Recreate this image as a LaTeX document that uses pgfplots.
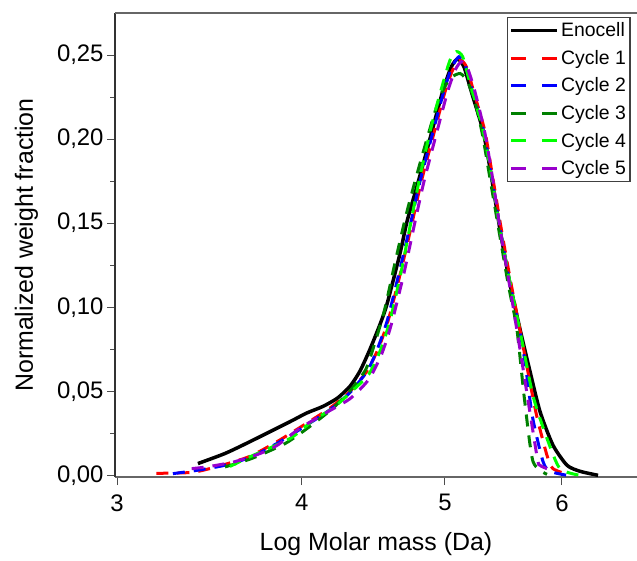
\documentclass[border=0pt]{standalone}
\usepackage{pgfplots}
\pgfplotsset{compat=1.18}
\usepackage{fontspec}
\setmainfont{Liberation Sans}

\definecolor{cdgreen}{RGB}{0,128,0}
\definecolor{clgreen}{RGB}{0,255,0}
\definecolor{cpurple}{RGB}{153,0,204}

\pgfplotsset{
  dashleg/.style={legend image code/.code={\draw[##1, dash pattern=on 15bp off 16bp] (0bp,0bp) -- (46bp,0bp);}},
  solidleg/.style={legend image code/.code={\draw[##1] (0bp,0bp) -- (46bp,0bp);}},
}

\begin{document}
\begin{tikzpicture}
\begin{axis}[
  scale only axis,
  width=522bp, height=464bp,
  xmode=log,
  xmin=2.9906, xmax=6.744,
  ymin=-0.001, ymax=0.275,
  axis lines=left,
  x axis line style={-, draw=black!60, line width=1.3bp},
  y axis line style={-, draw=black!80, line width=1.3bp},
  clip=false,
  tick align=outside,
  xtick={3,4,5,6},
  xticklabels={3,4,5,6},
  minor xtick={},
  ytick={0,0.05,0.10,0.15,0.20,0.25},
  minor ytick={0.025,0.075,0.125,0.175,0.225},
  major tick length=8bp,
  minor tick length=5bp,
  every tick/.style={black!70, line width=1bp},
  yticklabel style={/pgf/number format/.cd, fixed, fixed zerofill, precision=2, use comma},
  /pgf/number format/assume math mode=true,
  tick label style={font=\fontsize{24}{27}\selectfont},
  xticklabel style={yshift=-6bp},
  label style={font=\fontsize{25}{30}\selectfont},
  xlabel={Log Molar mass (Da)},
  ylabel={Normalized weight fraction},
  xlabel style={yshift=-14bp},
  ylabel style={yshift=12bp},
  legend style={at={(0.751,0.991)}, anchor=north west, draw=black!75,
    line width=1.2bp, font=\fontsize{19.5}{22}\selectfont,
    inner xsep=2bp, inner ysep=3bp, row sep=8bp},
  legend cell align=left,
  dashleg,
  every axis plot/.append style={line width=3bp, dash pattern=on 12bp off 9bp, smooth, tension=0.4},
]
\draw[black!60, line width=1.3bp] (rel axis cs:0,1) -- (rel axis cs:1,1);

% Enocell
\addplot[black, line width=3.5bp, solid, solidleg] coordinates {
(3.403,0.007) (3.55,0.013) (3.69,0.020) (3.93,0.032) (4.03,0.037)
(4.135,0.041) (4.23,0.046) (4.313,0.053) (4.38,0.062) (4.449,0.075)
(4.52,0.090) (4.569,0.102) (4.662,0.132) (4.713,0.151) (4.787,0.172)
(4.85,0.190) (4.908,0.207) (4.985,0.229) (5.05,0.243) (5.10,0.2476)
(5.15,0.243) (5.215,0.227) (5.305,0.205) (5.37,0.180) (5.448,0.146)
(5.53,0.115) (5.62,0.087) (5.708,0.062) (5.798,0.038) (5.916,0.018)
(6.047,0.006) (6.171,0.0024) (6.347,0.0)
};
\addlegendentry{Enocell}

% Cycle 1
\addplot[red] coordinates {
(3.19,0.0012) (3.377,0.0018) (3.533,0.006) (3.69,0.0113) (3.849,0.020)
(4.008,0.0296) (4.18,0.040) (4.313,0.050) (4.428,0.062) (4.51,0.076)
(4.58,0.093) (4.67,0.122) (4.75,0.150) (4.82,0.175) (4.92,0.205)
(5.00,0.228) (5.06,0.241) (5.12,0.247) (5.17,0.243) (5.23,0.228)
(5.32,0.205) (5.38,0.180) (5.46,0.146) (5.54,0.115) (5.63,0.083)
(5.69,0.0616) (5.77,0.035) (5.862,0.0118) (5.916,0.004) (6.075,0.0)
};
\addlegendentry{Cycle 1}

% Cycle 2
\addplot[blue] coordinates {
(3.273,0.001) (3.40,0.003) (3.55,0.006) (3.70,0.011) (3.85,0.019)
(4.00,0.028) (4.18,0.039) (4.31,0.049) (4.43,0.062) (4.50,0.075)
(4.57,0.092) (4.66,0.122) (4.74,0.150) (4.81,0.175) (4.91,0.205)
(4.99,0.228) (5.05,0.242) (5.11,0.249) (5.16,0.244) (5.22,0.228)
(5.31,0.205) (5.37,0.180) (5.45,0.146) (5.53,0.115) (5.62,0.085)
(5.664,0.0675) (5.73,0.035) (5.825,0.0083) (5.889,0.0024) (6.047,0.0)
};
\addlegendentry{Cycle 2}

% Cycle 3
\addplot[cdgreen] coordinates {
(3.55,0.005) (3.70,0.010) (3.90,0.019) (4.05,0.029) (4.20,0.040)
(4.32,0.051) (4.42,0.063) (4.48,0.078) (4.55,0.098) (4.63,0.128)
(4.71,0.156) (4.79,0.180) (4.88,0.205) (4.96,0.225) (5.04,0.236)
(5.12,0.239) (5.18,0.234) (5.24,0.222) (5.30,0.203) (5.36,0.178)
(5.44,0.145) (5.52,0.113) (5.593,0.087) (5.66,0.045) (5.735,0.0083)
(5.862,0.0006)
};
\addlegendentry{Cycle 3}

% Cycle 4
\addplot[clgreen] coordinates {
(3.577,0.0053) (3.69,0.011) (3.93,0.022) (4.07,0.0326) (4.20,0.040)
(4.313,0.049) (4.44,0.060) (4.52,0.074) (4.59,0.092) (4.67,0.121)
(4.74,0.150) (4.81,0.178) (4.90,0.209) (4.98,0.232) (5.04,0.247)
(5.09,0.252) (5.14,0.249) (5.20,0.233) (5.30,0.207) (5.37,0.181)
(5.45,0.146) (5.53,0.116) (5.62,0.086) (5.735,0.0474) (5.862,0.0219)
(5.981,0.004) (6.171,0.0)
};
\addlegendentry{Cycle 4}

% Cycle 5
\addplot[cpurple] coordinates {
(3.37,0.004) (3.45,0.005) (3.60,0.008) (3.75,0.013) (3.85,0.0178)
(3.99,0.028) (4.15,0.037) (4.313,0.0456) (4.44,0.057) (4.53,0.072)
(4.60,0.090) (4.69,0.120) (4.77,0.150) (4.84,0.175) (4.94,0.205)
(5.02,0.228) (5.08,0.241) (5.13,0.246) (5.18,0.242) (5.24,0.228)
(5.32,0.204) (5.38,0.179) (5.45,0.146) (5.53,0.113) (5.62,0.075)
(5.77,0.0118) (5.798,0.006) (5.862,0.004)
};
\addlegendentry{Cycle 5}
\end{axis}
\pgfresetboundingbox
\useasboundingbox (-115bp,-84bp) rectangle (522bp,477bp);
\end{tikzpicture}
\end{document}
